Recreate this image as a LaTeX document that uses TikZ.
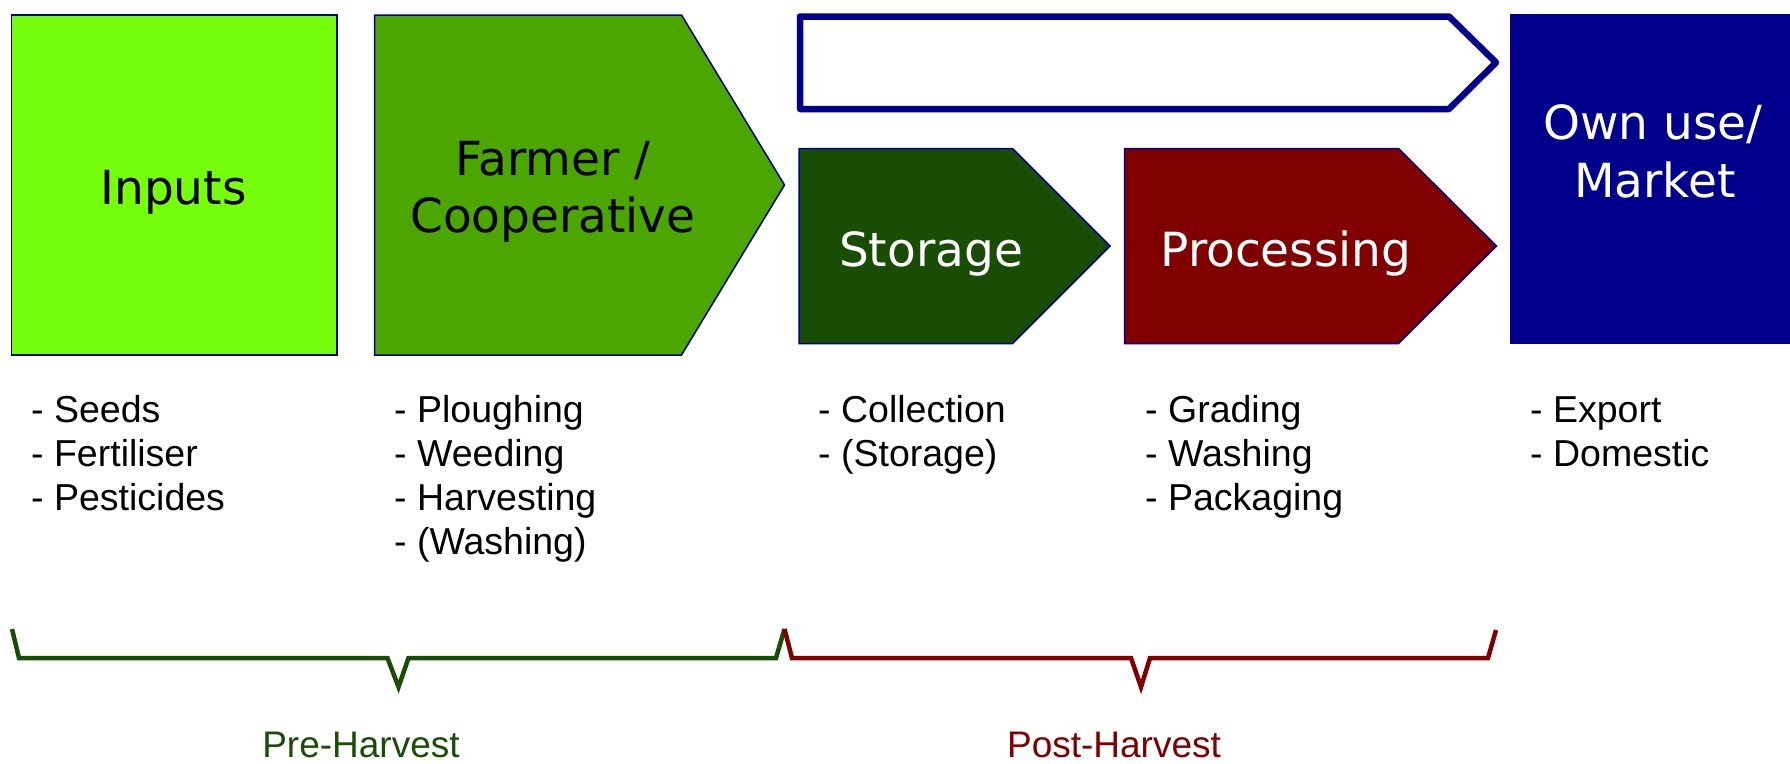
\documentclass[tikz,border=0pt]{standalone}
\usepackage{fontspec}
\setmainfont{Liberation Sans}
\newfontfamily\boxfont{DejaVu Sans}
\definecolor{cInputs}{RGB}{118,255,13}
\definecolor{cFarmer}{RGB}{75,166,0}
\definecolor{cStorage}{RGB}{25,77,3}
\definecolor{cProc}{RGB}{128,0,0}
\definecolor{cNavy}{RGB}{0,0,140}
\begin{document}
\begin{tikzpicture}[x=1pt,y=-1pt,
  shapebox/.style={draw=cNavy,line width=1.5pt,line join=miter},
  boxtext/.style={anchor=base,inner sep=0pt,font=\boxfont\fontsize{47pt}{57pt}\selectfont},
  listtext/.style={anchor=base west,inner sep=0pt,align=left,font=\fontsize{37.5pt}{44.3pt}\selectfont},
  phase/.style={anchor=base,inner sep=0pt,font=\fontsize{37pt}{44pt}\selectfont},
  bracket/.style={line width=4.5pt,line join=miter,line cap=butt}]
\useasboundingbox (0,0) rectangle (1790,763);
% boxes
\path[shapebox,fill=cInputs] (11.5,15) rectangle (337,355);
\path[shapebox,fill=cFarmer] (374.5,15) -- (681.5,15) -- (784.5,185) -- (681.5,355) -- (374.5,355) -- cycle;
\path[draw=cNavy,line width=6.5pt,line join=round,fill=white] (800,16.5) -- (1449,16.5) -- (1496,62.5) -- (1449,109) -- (800,109) -- cycle;
\path[shapebox,fill=cStorage] (799,148.5) -- (1012.5,148.5) -- (1110,246) -- (1012.5,343.5) -- (799,343.5) -- cycle;
\path[shapebox,fill=cProc] (1124.5,148.5) -- (1398.5,148.5) -- (1496.5,246) -- (1398.5,343.5) -- (1124.5,343.5) -- cycle;
\path[fill=cNavy] (1510,13.5) rectangle (1790,343.5);
% box texts
\node[boxtext] (tInputs) at (173.5,204) {Inputs};
\node[boxtext] (tFarmer) at (553,175) {Farmer /};
\node[boxtext] (tCoop) at (553,232) {Cooperative};
\node[boxtext,text=white] (tStorage) at (931,266) {Storage};
\node[boxtext,text=white] (tProc) at (1286,266) {Processing};
\node[boxtext,text=white] (tOwn) at (1653,139) {Own use/};
\node[boxtext,text=white] (tMarket) at (1655,197) {Market};
% lists (base anchor = last line's baseline; first line at 422)
\node[listtext] (lInputs) at (31,510.6) {- Seeds\\- Fertiliser\\- Pesticides};
\node[listtext] (lFarmer) at (394,554.9) {- Ploughing\\- Weeding\\- Harvesting\\- (Washing)};
\node[listtext] (lStorage) at (818,466.3) {- Collection\\- (Storage)};
\node[listtext] (lProc) at (1145,510.6) {- Grading\\- Washing\\- Packaging};
\node[listtext] (lMarket) at (1530,466.3) {- Export\\- Domestic};
% brackets
\draw[bracket,draw=cStorage] (12,629) -- (19,658) -- (387.5,658) -- (398.5,687) -- (408.5,658) -- (776,658) -- (784.5,629);
\draw[bracket,draw=cProc] (784.5,629) -- (792,658) -- (1131,658) -- (1141,687) -- (1150,658) -- (1488,658) -- (1496,630);
\node[phase,text=cStorage] (pre) at (361,757) {Pre-Harvest};
\node[phase,text=cProc] (post) at (1114,757) {Post-Harvest};
\end{tikzpicture}
\end{document}
